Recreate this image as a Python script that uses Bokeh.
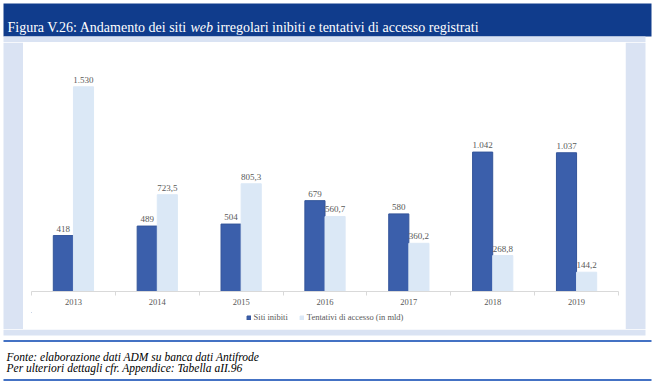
from bokeh.plotting import figure
from bokeh.layouts import column, row
from bokeh.models import (ColumnDataSource, Range1d, FixedTicker, LabelSet, Label,
                          BoxAnnotation, Legend, LegendItem)
from bokeh.embed import file_html
from bokeh.resources import INLINE

# ---- data ----
anni = ["2013", "2014", "2015", "2016", "2017", "2018", "2019"]
siti_inibiti = [418, 489, 504, 679, 580, 1042, 1037]
tentativi_accesso = [1530, 723.5, 805.3, 560.7, 360.2, 268.8, 144.2]
serie = ["Siti inibiti", "Tentativi di accesso (in mld)"]

titolo_a = "Figura V.26: Andamento dei siti"
titolo_b = "web"
titolo_c = "irregolari inibiti e tentativi di accesso registrati"
nota_1 = "Fonte: elaborazione dati ADM su banca dati Antifrode"
nota_2 = "Per ulteriori dettagli cfr. Appendice: Tabella aII.96"


def fmt_it(v):
    if float(v).is_integer():
        return f"{int(v):,}".replace(",", ".")
    return f"{v:,.1f}".replace(",", "X").replace(".", ",").replace("X", ".")


FONT = "Liberation Serif"
DARK = "#3b5fab"
DARK_LINE = "#34559a"
LIGHT = "#dbe8f6"
GREY = "#595959"
NAVY = "#103c8c"
PANEL = "#dae3f3"
RULE = "#4472c4"
W = 654


def block(w, h, color="white"):
    f = figure(width=w, height=h, output_backend="svg", toolbar_location=None,
               x_range=Range1d(0, w), y_range=Range1d(h, 0),
               x_axis_location=None, y_axis_location=None, min_border=0)
    f.outline_line_color = None
    f.background_fill_color = color
    f.border_fill_color = color
    f.xgrid.visible = False
    f.ygrid.visible = False
    return f


def rect(f, l, r, t, b, color):
    f.add_layout(BoxAnnotation(left=l, right=r, top=t, bottom=b, fill_color=color,
                               fill_alpha=1, line_color=None, level="underlay"))


# ---- head: title bar + top of panel ----
head = block(W, 42)
rect(head, 3, 651, 3, 36, NAVY)
rect(head, 3, 645, 36, 42, PANEL)
for txt, x, style in [(titolo_a, 7, "normal"), (titolo_b, 190, "italic"), (titolo_c, 216, "normal")]:
    head.add_layout(Label(x=x, y=27.3, text=txt, text_font=FONT, text_font_size="14px",
                          text_font_style=style, text_color="white", text_baseline="alphabetic"))

# side strips of the panel
left_strip = block(23, 287)
rect(left_strip, 3, 23, 0, 287, PANEL)
right_strip = block(29, 287)
rect(right_strip, 0, 20, 0, 287, PANEL)

# ---- main chart ----
p = figure(width=602, height=270, output_backend="svg", toolbar_location=None,
           x_range=Range1d(-0.5, len(anni) - 0.5), y_range=Range1d(0, 1861),
           y_axis_location=None, min_border_left=8, min_border_right=7,
           min_border_top=0, min_border_bottom=21)
p.outline_line_color = None
p.background_fill_color = "white"
p.border_fill_color = "white"
p.xgrid.visible = False
p.ygrid.visible = False

idx = list(range(len(anni)))
src = ColumnDataSource(dict(
    x1=[i - 0.12 for i in idx], x2=[i + 0.12 for i in idx],
    siti=siti_inibiti, tent=tentativi_accesso,
    lab1=[fmt_it(v) for v in siti_inibiti], lab2=[fmt_it(v) for v in tentativi_accesso]))

p.vbar(x="x1", top="siti", width=0.24, source=src, fill_color=DARK, line_color=DARK_LINE)
p.vbar(x="x2", top="tent", width=0.24, source=src, fill_color=LIGHT, line_color=LIGHT)

for xcol, ycol, lcol in [("x1", "siti", "lab1"), ("x2", "tent", "lab2")]:
    p.add_layout(LabelSet(x=xcol, y=ycol, text=lcol, source=src, y_offset=4,
                          text_align="center", text_baseline="bottom",
                          text_font=FONT, text_font_size="9px", text_color=GREY))

ax = p.xaxis[0]
ax.ticker = FixedTicker(ticks=idx, minor_ticks=[i - 0.5 for i in range(len(anni) + 1)])
ax.major_label_overrides = {i: a for i, a in zip(idx, anni)}
ax.axis_line_color = "#d9d9d9"
ax.major_tick_in = 0
ax.major_tick_out = 0
ax.minor_tick_in = 0
ax.minor_tick_out = 4
ax.minor_tick_line_color = "#d9d9d9"
ax.major_label_standoff = 3
ax.major_label_text_font = FONT
ax.major_label_text_font_size = "8.5px"
ax.major_label_text_color = GREY

# ---- legend strip ----
lg = block(602, 17)
l1 = lg.vbar(x=[-100], top=[-100], bottom=[-100], width=1, fill_color=DARK, line_color=DARK_LINE)
l2 = lg.vbar(x=[-100], top=[-100], bottom=[-100], width=1, fill_color=LIGHT, line_color=LIGHT)
legend = Legend(items=[LegendItem(label=serie[0], renderers=[l1]),
                       LegendItem(label=serie[1], renderers=[l2])],
                orientation="horizontal", location="top_center",
                glyph_width=5, glyph_height=5, label_height=5, label_width=5,
                label_standoff=3, spacing=11, padding=0, margin=0,
                border_line_color=None, background_fill_alpha=0,
                label_text_font=FONT, label_text_font_size="8.5px",
                label_text_color=GREY)
lg.add_layout(legend, "center")

# ---- footer: bottom of panel, rules, notes ----
foot = block(W, 61)
rect(foot, 3, 645, 0, 6, PANEL)
rect(foot, 3, 651, 10.5, 12.5, RULE)
rect(foot, 3, 651, 49.5, 51.5, RULE)
for txt, y in [(nota_1, 27), (nota_2, 38.5)]:
    foot.add_layout(Label(x=6, y=y, text=txt, text_font=FONT, text_font_size="11.5px",
                          text_font_style="italic", text_color="black",
                          text_baseline="alphabetic"))

layout = column(head,
                row(left_strip, column(p, lg, spacing=0), right_strip, spacing=0),
                foot, spacing=0)

open("out.html", "w").write(file_html(layout, INLINE))
